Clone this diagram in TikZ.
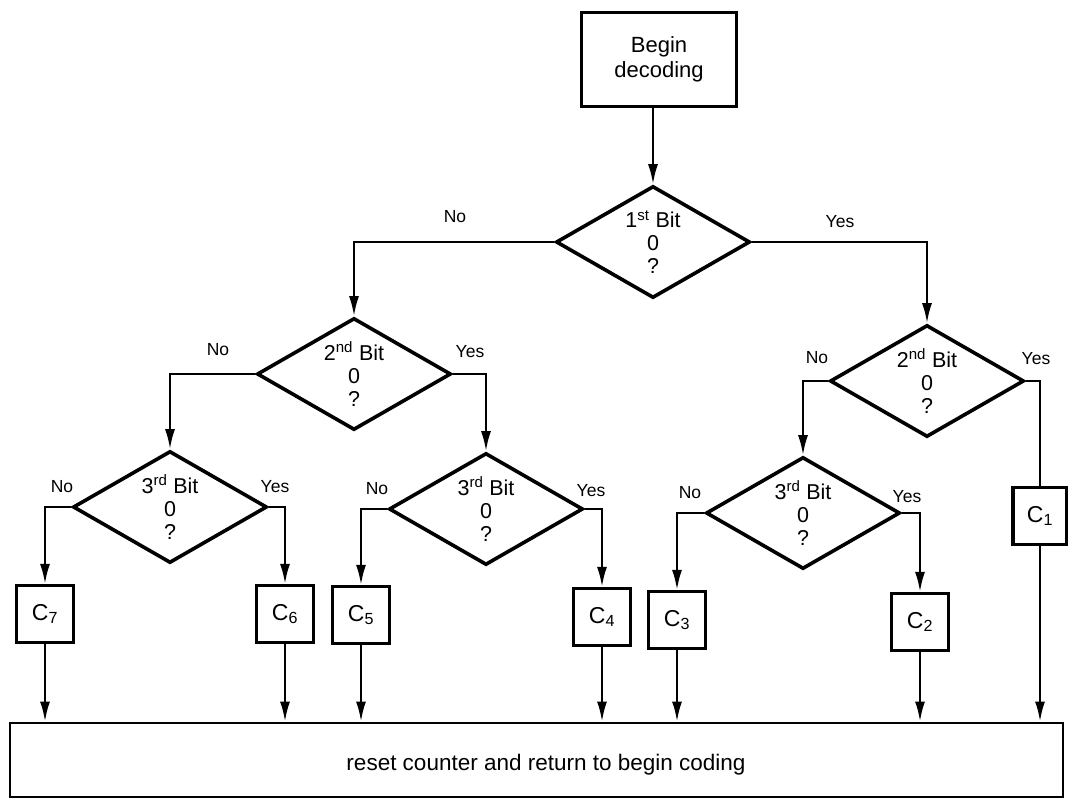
\documentclass[tikz,border=0pt]{standalone}
\usepackage{fontspec}
\setmainfont{Liberation Sans}
\usetikzlibrary{shapes.geometric,arrows.meta}
\tikzset{
  dec/.style={diamond, draw, line width=3.6pt, aspect=1.73, minimum width=194pt, minimum height=112pt,
    inner sep=0pt, align=center, font=\fontsize{21.5}{23}\selectfont},
  cbox/.style={rectangle, draw, line width=3.2pt, minimum width=57pt, minimum height=57pt,
    inner sep=0pt, font=\fontsize{23}{24}\selectfont},
  startbox/.style={rectangle, draw, line width=3pt, minimum width=155pt, minimum height=94pt,
    align=center, inner sep=0pt, font=\fontsize{22}{25}\selectfont},
  endbox/.style={rectangle, draw, line width=2.8pt, minimum width=1053pt, minimum height=74pt,
    inner sep=0pt},
  conn/.style={line width=2.3pt},
  arr/.style={conn, -{Latex[length=20pt,width=10pt]}},
  lbl/.style={font=\fontsize{17.5}{19}\selectfont, inner sep=0pt},
  endtext/.style={inner sep=0pt, font=\fontsize{22.5}{24}\selectfont},
}
\begin{document}
\begin{tikzpicture}[x=1pt,y=-1pt]
\useasboundingbox (0,0) rectangle (1068,806);
\fill[white] (0,0) rectangle (1068,806);

% start
\node[startbox] (begin) at (659,59) {Begin\\decoding};

% decisions
\node[dec] (d1)  at (653,242) {1\textsuperscript{st} Bit\\0\\?};
\node[dec] (d2l) at (354,374) {2\textsuperscript{nd} Bit\\0\\?};
\node[dec] (d2r) at (927,381) {2\textsuperscript{nd} Bit\\0\\?};
\node[dec] (d3a) at (170,507) {3\textsuperscript{rd} Bit\\0\\?};
\node[dec] (d3b) at (486,509) {3\textsuperscript{rd} Bit\\0\\?};
\node[dec] (d3c) at (803,513) {3\textsuperscript{rd} Bit\\0\\?};

% code boxes
\node[cbox] (c7) at (45,614)  {C\textsubscript{7}};
\node[cbox] (c6) at (285,614) {C\textsubscript{6}};
\node[cbox] (c5) at (361,615) {C\textsubscript{5}};
\node[cbox] (c4) at (602,617) {C\textsubscript{4}};
\node[cbox] (c3) at (677,620) {C\textsubscript{3}};
\node[cbox] (c2) at (920,622) {C\textsubscript{2}};
\node[cbox, minimum width=54pt] (c1) at (1040,516) {C\textsubscript{1}};

% end box
\node[endbox] (bot) at (536.5,760) {};
\node[endtext] (bottxt) at (546,765) {reset counter and return to begin coding};

% connectors
\draw[arr] (begin.south -| d1.north) -- (d1.north);
\draw[arr] (d1.west) -| (d2l.north);
\draw[arr] (d1.east) -| (d2r.north);
\draw[arr] (d2l.west) -| (d3a.north);
\draw[arr] (d2l.east) -| (d3b.north);
\draw[arr] (d2r.west) -| (d3c.north);
\draw[conn] (d2r.east) -| (c1.north);
\draw[arr] (d3a.west) -| (c7.north);
\draw[arr] (d3a.east) -| (c6.north);
\draw[arr] (d3b.west) -| (c5.north);
\draw[arr] (d3b.east) -| (c4.north);
\draw[arr] (d3c.west) -| (c3.north);
\draw[arr] (d3c.east) -| (c2.north);
\foreach \c in {c7,c6,c5,c4,c3,c2,c1}
  \draw[arr] (\c.south) -- (\c.south |- bot.north);

% labels
\node[lbl] (n1) at (455,217) {No};
\node[lbl] (y1) at (840,222) {Yes};
\node[lbl] (n2l) at (218,350) {No};
\node[lbl] (y2l) at (470,352) {Yes};
\node[lbl] (n2r) at (817,358) {No};
\node[lbl] (y2r) at (1036,359) {Yes};
\node[lbl] (n3a) at (62,487) {No};
\node[lbl] (y3a) at (275,487) {Yes};
\node[lbl] (n3b) at (377,489) {No};
\node[lbl] (y3b) at (591,491) {Yes};
\node[lbl] (n3c) at (690,493) {No};
\node[lbl] (y3c) at (907,497) {Yes};
\end{tikzpicture}
\end{document}
